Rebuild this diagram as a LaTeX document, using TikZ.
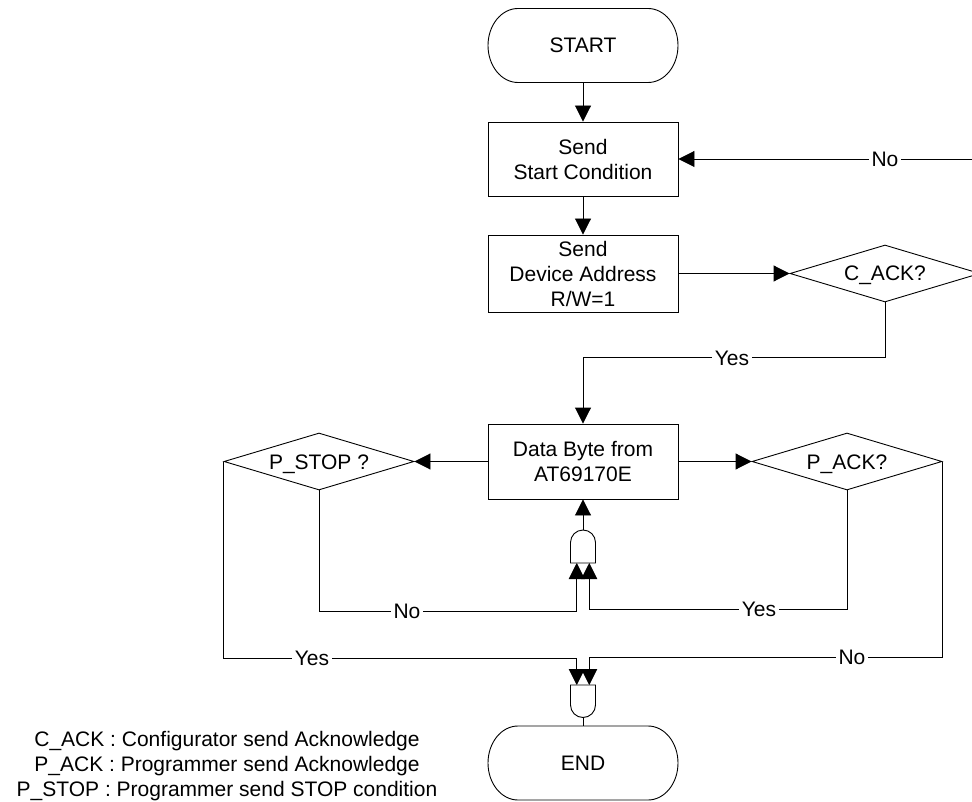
\documentclass[tikz,border=0pt]{standalone}
\usepackage{fontspec}
\setmainfont{Liberation Sans}
\usetikzlibrary{arrows.meta,shapes.geometric,calc}
\newcommand\drawterminal[1]{%
  \draw[line, shift={(#1.center)}] (-65,-37) -- (65,-37)
    .. controls (81.6,-37) and (95,-20.4) .. (95,0)
    .. controls (95,20.4) and (81.6,37) .. (65,37) -- (-65,37)
    .. controls (-81.6,37) and (-95,20.4) .. (-95,0)
    .. controls (-95,-20.4) and (-81.6,-37) .. (-65,-37) -- cycle;}
\begin{document}
\begin{tikzpicture}[x=1pt,y=-1pt,
  every node/.style={font=\fontsize{21}{25}\selectfont},
  line/.style={line width=0.9pt},
  arr/.style={line, -{Triangle[length=16pt,width=16pt]}},
  procbox/.style={draw, line width=0.9pt, minimum width=190pt, inner sep=0pt, align=center},
  decision/.style={draw, diamond, line width=0.9pt, minimum width=190pt, minimum height=57pt, aspect=3.33, inner sep=0pt, text height=15pt, text depth=0pt},
  lbl/.style={fill=white, inner sep=2.5pt, text height=15pt, text depth=0pt},
  term/.style={minimum width=190pt, minimum height=74pt, inner sep=0pt, text height=15pt, text depth=0pt}
]
\useasboundingbox (0,0) rectangle (972,802);
\fill[white] (0,0) rectangle (972,802);
\clip (0,0) rectangle (972,802);

% nodes
\node[term] (start) at (583,45.5) {START};
\drawterminal{start}
\node[procbox, minimum height=74pt] (box1) at (583,159) {Send\\Start Condition};
\node[procbox, minimum height=77pt] (box2) at (583,273.5) {Send\\Device Address\\R/W=1};
\node[decision] (cack) at (885,273.5) {C\_ACK?};
\node[procbox, minimum height=75pt] (box3) at (583,461.5) {Data Byte from\\AT69170E};
\node[decision] (pstop) at (319,461.5) {P\_STOP ?};
\node[decision] (pack) at (847,461.5) {P\_ACK?};
\node[term] (end) at (583,763) {END};
\drawterminal{end}

% AND gates
\draw[line] (570.5,563) -- (570.5,542.5)
  .. controls (570.5,535.6) and (576.1,530) .. (583,530)
  .. controls (589.9,530) and (595.5,535.6) .. (595.5,542.5) -- (595.5,563) -- cycle;
\draw[line] (570.5,685) -- (595.5,685) -- (595.5,705)
  .. controls (595.5,711.9) and (589.9,717.5) .. (583,717.5)
  .. controls (576.1,717.5) and (570.5,711.9) .. (570.5,705) -- cycle;
\coordinate (g1out) at (583,530);
\coordinate (g1L) at (576.75,563);
\coordinate (g1R) at (589.25,563);
\coordinate (g2L) at (576.75,685);
\coordinate (g2R) at (589.25,685);
\coordinate (g2out) at (583,717.5);

% connectors
\draw[arr] (start) -- (box1);
\draw[arr] (box1) -- (box2);
\draw[arr] (box2.east) -- (cack.west);
\draw[arr] (cack.south) |- ($(box3.north)+(0,-66)$) -- (box3.north);
\draw[arr] (cack.east) -- ++(12,0) |- (box1.east);
\draw[arr] (g1out) -- (box3.south);
\draw[arr] (box3.west) -- (pstop.east);
\draw[arr] (box3.east) -- (pack.west);
\draw[arr] (pstop.south) |- ($(g1L)+(0,48)$) -- (g1L);
\draw[arr] (pstop.west) |- ($(g2L)+(0,-27)$) -- (g2L);
\draw[arr] (pack.south) |- ($(g1R)+(0,46)$) -- (g1R);
\draw[arr] (pack.east) |- ($(g2R)+(0,-28)$) -- (g2R);
\draw[line] (g2out) -- (end);

% labels
\node[lbl] (lno1) at (885,159) {No};
\node[lbl] (lyes1) at (732,358) {Yes};
\node[lbl] (lno2) at (407,611) {No};
\node[lbl] (lyes2) at (312,658) {Yes};
\node[lbl] (lyes3) at (759,609) {Yes};
\node[lbl] (lno3) at (852,657) {No};

% legend
\node[anchor=base] (leg1) at (227,746) {C\_ACK : Configurator send Acknowledge};
\node[anchor=base] (leg2) at (227,771) {P\_ACK : Programmer send Acknowledge};
\node[anchor=base] (leg3) at (227,796) {P\_STOP : Programmer send STOP condition};
\end{tikzpicture}
\end{document}
